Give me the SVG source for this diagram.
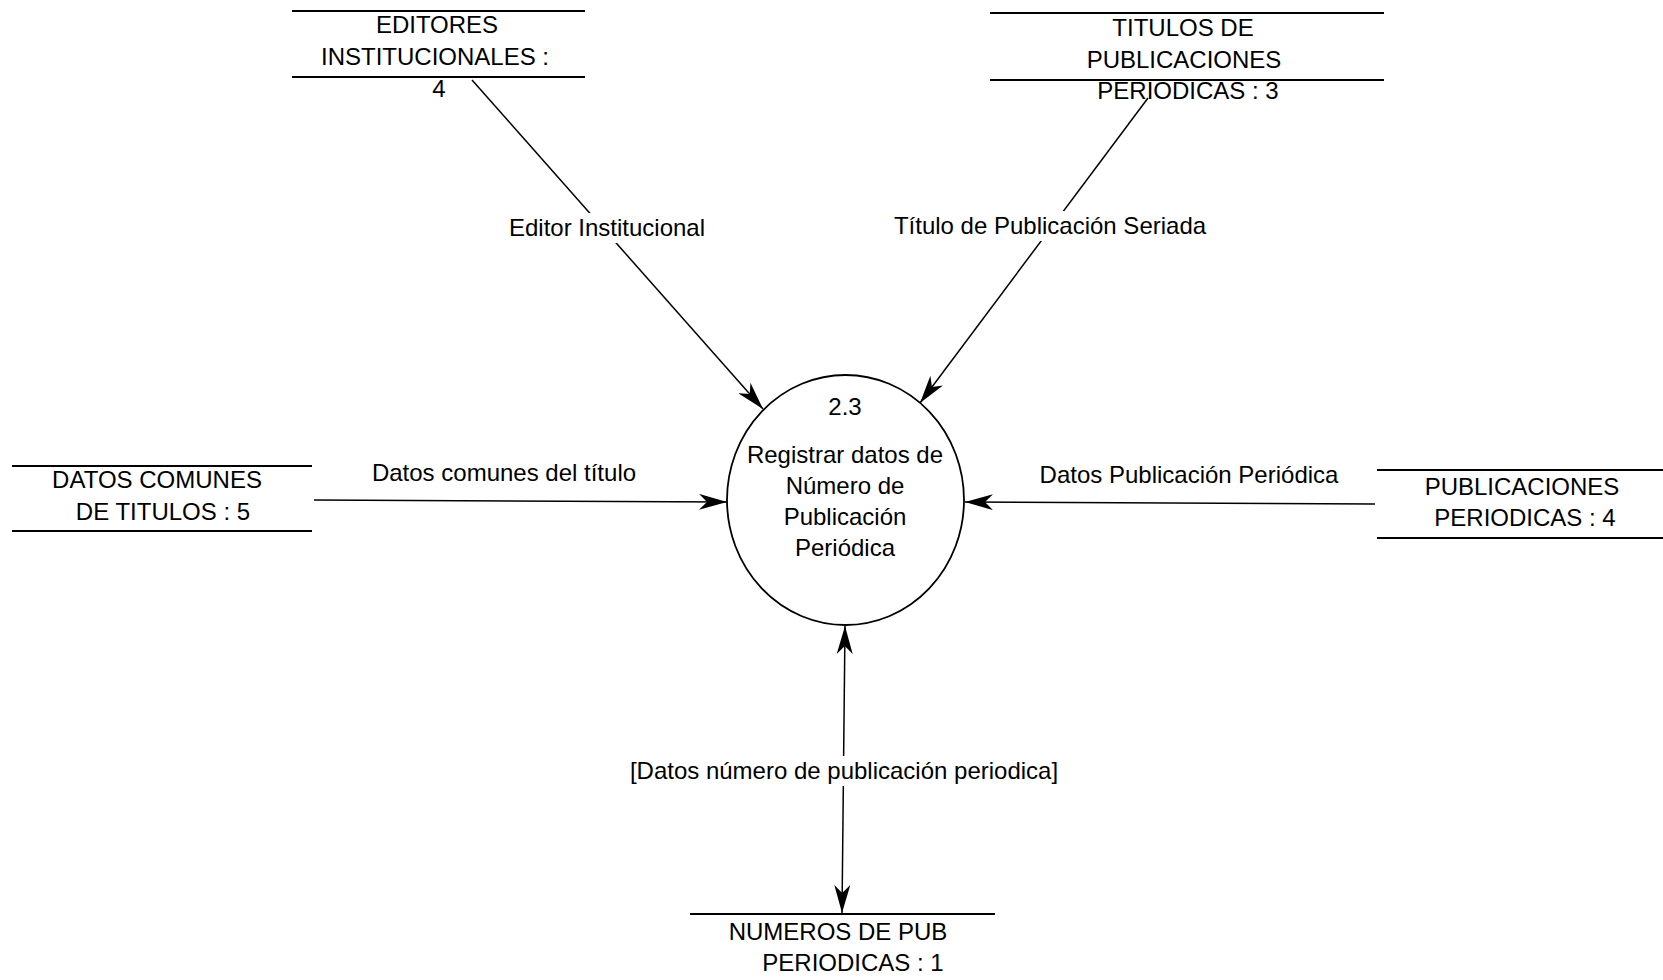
<svg xmlns="http://www.w3.org/2000/svg" width="1663" height="980" viewBox="0 0 1663 980">
<defs>
<style>
text{font-family:"Liberation Sans",Arial,sans-serif;font-size:24px;fill:#000;text-anchor:middle}
.st{stroke:#000;stroke-width:1.8;fill:none}
.fl{stroke:#000;stroke-width:1.5;fill:none}
.lb{fill:#fff;stroke:none}
</style>
<marker id="ah" markerUnits="userSpaceOnUse" markerWidth="30" markerHeight="16" refX="28" refY="8" orient="auto-start-reverse">
<path d="M28,8 L0,0 L8,8 L0,16 Z" fill="#000"/>
</marker>
</defs>
<rect width="1663" height="980" fill="#fff"/>
<g id="connectors">
<line class="fl" x1="472" y1="80" x2="763" y2="409" marker-end="url(#ah)"/>
<line class="fl" x1="1148" y1="98" x2="920" y2="403" marker-end="url(#ah)"/>
<line class="fl" x1="314" y1="500" x2="727" y2="502" marker-end="url(#ah)"/>
<line class="fl" x1="1375" y1="504" x2="965" y2="502" marker-end="url(#ah)"/>
<line class="fl" x1="845" y1="626" x2="842" y2="913" marker-start="url(#ah)" marker-end="url(#ah)"/>
<rect class="lb" x="509" y="213" width="196" height="30"/>
<text x="607" y="235.5">Editor Institucional</text>
<rect class="lb" x="894" y="211" width="313" height="30"/>
<text x="1050" y="233.5">Título de Publicación Seriada</text>
<text x="504" y="480.5">Datos comunes del título</text>
<text x="1189" y="482.5">Datos Publicación Periódica</text>
<rect class="lb" x="628" y="756" width="433" height="30"/>
<text x="844" y="778.5">[Datos número de publicación periodica]</text>
</g>
<g id="process-2-3">
<ellipse cx="845.5" cy="500" rx="118.5" ry="125" fill="#fff" stroke="#000" stroke-width="1.8"/>
<text x="845" y="414.5">2.3</text>
<text x="845" y="462.5">Registrar datos de</text>
<text x="845" y="493.5">Número de</text>
<text x="845" y="525">Publicación</text>
<text x="845" y="555.5">Periódica</text>
</g>
<g id="store-editores">
<line class="st" x1="292" y1="11" x2="585" y2="11"/>
<line class="st" x1="292" y1="77" x2="585" y2="77"/>
<text x="437" y="33">EDITORES</text>
<text x="435" y="65">INSTITUCIONALES :</text>
<text x="439" y="96.5">4</text>
</g>
<g id="store-titulos">
<line class="st" x1="990" y1="13" x2="1384" y2="13"/>
<line class="st" x1="990" y1="80" x2="1384" y2="80"/>
<text x="1183" y="36">TITULOS DE</text>
<text x="1184" y="68">PUBLICACIONES</text>
<text x="1188" y="99">PERIODICAS : 3</text>
</g>
<g id="store-datos-comunes">
<line class="st" x1="12" y1="466" x2="312" y2="466"/>
<line class="st" x1="12" y1="531" x2="312" y2="531"/>
<text x="157" y="488">DATOS COMUNES</text>
<text x="163" y="519.5">DE TITULOS : 5</text>
</g>
<g id="store-publicaciones">
<line class="st" x1="1377" y1="470" x2="1663" y2="470"/>
<line class="st" x1="1377" y1="538" x2="1663" y2="538"/>
<text x="1522" y="494.5">PUBLICACIONES</text>
<text x="1525" y="526">PERIODICAS : 4</text>
</g>
<g id="store-numeros">
<line class="st" x1="690" y1="914" x2="995" y2="914"/>
<text x="838" y="939.5">NUMEROS DE PUB</text>
<text x="853" y="970.5">PERIODICAS : 1</text>
</g>
</svg>
